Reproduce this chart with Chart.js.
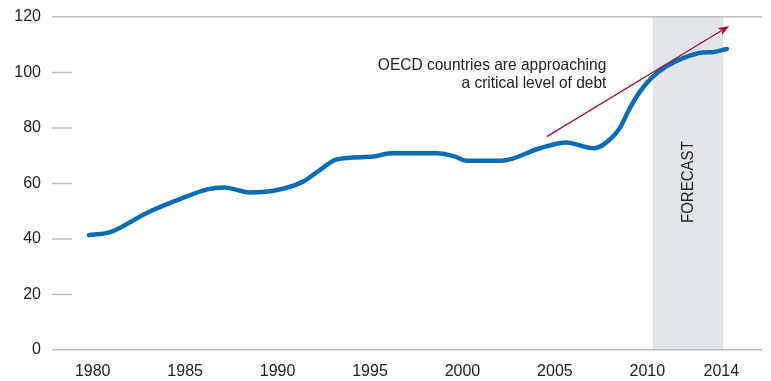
<!DOCTYPE html>
<html><head><meta charset="utf-8">
<script src="https://cdn.jsdelivr.net/npm/chart.js@4/dist/chart.umd.min.js"></script>
<style>html,body{margin:0;padding:0;background:#fff}#wrap{width:771px;height:381px}</style>
</head><body><div id="wrap"><canvas id="c" width="771" height="381"></canvas></div>
<script>
// ---- data ----
const years = [1979.8, 1981.0, 1982.9, 1984.5, 1986.2, 1987.1, 1988.5, 1989.7, 1991.3, 1992.3, 1993.2, 1995.2, 1996.1, 1998.6, 1999.6, 2000.2, 2002.1, 2004.2, 2005.6, 2007.1, 2007.6, 2008.5, 2009.0, 2009.6, 2010.2, 2011.0, 2011.9, 2013.0, 2013.5, 2014.3];
const debt  = [41.4,   42.6,   49.3,   53.8,   57.9,   58.6,   56.8,   57.3,   60.4,   64.9,   68.7,   69.7,   70.9,   70.9,   69.7,   68.2,   68.2,   72.7,   74.8,   72.7,   73.9,   79.9,   86.5,   93.1,   97.9,  102.1,  105.1,  107.2,  107.3,  108.5];
const xTicks = [1980, 1985, 1990, 1995, 2000, 2005, 2010, 2014];
const yTicks = [0, 20, 40, 60, 80, 100, 120];
const forecastRange = [2010.3, 2014.1];
const trendFrom = [2004.56, 76.9];
const trendTo = [2014.43, 116.8];
const noteLines = ['OECD countries are approaching', 'a critical level of debt'];
const forecastLabel = 'FORECAST';

const FONT = '"Liberation Sans", Arial, sans-serif';
const GRID = '#b9bfc5';
const TXT = '#222222';
const SQUEEZE = 0.94;

const decor = {
  id: 'decor',
  beforeDraw(chart) {
    const {ctx, chartArea: a, scales: {x, y}} = chart;
    ctx.save();
    ctx.fillStyle = '#e3e6e9';
    const x1 = x.getPixelForValue(forecastRange[0]), x2 = x.getPixelForValue(forecastRange[1]);
    ctx.fillRect(x1, a.top, x2 - x1, a.bottom - a.top);
    ctx.restore();
  },
  afterDatasetsDraw(chart) {
    const {ctx, chartArea: a, scales: {x, y}} = chart;
    ctx.save();
    ctx.strokeStyle = GRID; ctx.lineWidth = 1.5;
    yTicks.forEach(v => {
      if (v === 0 || v === 120) return;
      const py = y.getPixelForValue(v);
      ctx.beginPath(); ctx.moveTo(a.left, py); ctx.lineTo(a.left + 20, py); ctx.stroke();
    });
    ctx.fillStyle = TXT;
    ctx.font = '16px ' + FONT;
    ctx.textAlign = 'center'; ctx.textBaseline = 'middle';
    ctx.translate(x.getPixelForValue((forecastRange[0] + forecastRange[1]) / 2) + 1, y.getPixelForValue(60.5));
    ctx.rotate(-Math.PI / 2);
    ctx.scale(SQUEEZE, 1);
    ctx.fillText(forecastLabel, 0, 0);
    ctx.restore();

    ctx.save();
    const sx = x.getPixelForValue(trendFrom[0]), sy = y.getPixelForValue(trendFrom[1]);
    const ex = x.getPixelForValue(trendTo[0]), ey = y.getPixelForValue(trendTo[1]);
    const ang = Math.atan2(ey - sy, ex - sx);
    const col = '#9b1346';
    ctx.strokeStyle = col; ctx.fillStyle = col; ctx.lineWidth = 1.3;
    const hl = 11, hw = 4;
    ctx.beginPath(); ctx.moveTo(sx, sy);
    ctx.lineTo(ex - Math.cos(ang) * hl * 0.8, ey - Math.sin(ang) * hl * 0.8); ctx.stroke();
    ctx.beginPath();
    ctx.moveTo(ex, ey);
    ctx.lineTo(ex - Math.cos(ang) * hl + Math.sin(ang) * hw, ey - Math.sin(ang) * hl - Math.cos(ang) * hw);
    ctx.lineTo(ex - Math.cos(ang) * hl * 0.75, ey - Math.sin(ang) * hl * 0.75);
    ctx.lineTo(ex - Math.cos(ang) * hl - Math.sin(ang) * hw, ey - Math.sin(ang) * hl + Math.cos(ang) * hw);
    ctx.closePath(); ctx.fill();
    ctx.fillStyle = TXT;
    ctx.font = '16.5px ' + FONT;
    ctx.textAlign = 'right'; ctx.textBaseline = 'alphabetic';
    const tx = x.getPixelForValue(2007.78);
    const b1 = y.getPixelForValue(100.9), b2 = y.getPixelForValue(94.4);
    ctx.translate(tx, 0);
    ctx.scale(SQUEEZE, 1);
    ctx.fillText(noteLines[0], 0, b1);
    ctx.fillText(noteLines[1], 0, b2);
    ctx.restore();
  }
};

new Chart(document.getElementById('c'), {
  type: 'line',
  data: {
    datasets: [{
      data: years.map((v, i) => ({x: v, y: debt[i]})),
      borderColor: '#0b6cb2',
      borderWidth: 4.5,
      pointRadius: 0,
      cubicInterpolationMode: 'monotone',
      borderCapStyle: 'round',
      borderJoinStyle: 'round'
    }]
  },
  options: {
    responsive: false,
    animation: false,
    devicePixelRatio: 1,
    layout: {padding: {top: 17, right: 9, left: 0, bottom: 0}},
    plugins: {legend: {display: false}, tooltip: {enabled: false}},
    scales: {
      x: {
        type: 'linear', min: 1977.8, max: 2016.2,
        afterBuildTicks: s => { s.ticks = xTicks.map(v => ({value: v})); },
        afterFit: s => { s.height = 31; },
        grid: {display: false},
        border: {display: false},
        ticks: {font: {family: FONT, size: 16}, color: TXT, padding: 4, maxRotation: 0, autoSkip: false, callback: v => String(v)}
      },
      y: {
        min: 0, max: 120,
        afterBuildTicks: s => { s.ticks = yTicks.map(v => ({value: v})); },
        afterFit: s => { s.width = 52; s.paddingTop = 0; s.paddingBottom = 0; },
        grid: {color: c => (c.tick && (c.tick.value === 0 || c.tick.value === 120)) ? GRID : 'rgba(0,0,0,0)', lineWidth: 1.5, drawTicks: false},
        border: {display: false},
        ticks: {font: {family: FONT, size: 16}, color: TXT, padding: 11, callback: v => String(v)}
      }
    }
  },
  plugins: [decor]
});
</script></body></html>
